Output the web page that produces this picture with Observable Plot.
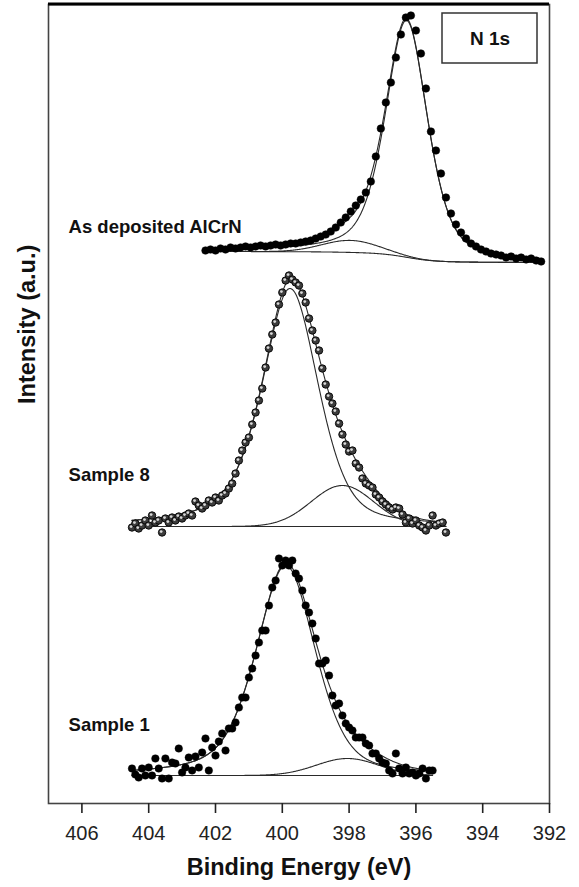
<!DOCTYPE html>
<html><head><meta charset="utf-8">
<script src="https://cdn.jsdelivr.net/npm/d3@7"></script>
<script src="https://cdn.jsdelivr.net/npm/@observablehq/plot@0.6"></script>
<style>
html,body{margin:0;padding:0;background:#fff;}
#chart{width:579px;height:887px;}
</style></head>
<body><div id="chart"></div>
<script>
// ---- axis ----
const xTicks = [406, 404, 402, 400, 398, 396, 394, 392];
const xTitle = "Binding Energy (eV)";
const yTitle = "Intensity (a.u.)";
const panelLabel = "N 1s";

// ---- labels ----
const sampleNames = ["As deposited AlCrN", "Sample 8", "Sample 1"];
const labelBE = [406.4, 406.4, 406.4];
const labelI = [576, 328, 78];

// ---- As deposited AlCrN (binding energy eV, intensity a.u., stacked) ----
const asDepBE = [402.30,402.15,402.00,401.85,401.70,401.55,401.40,401.25,401.10,400.95,
400.80,400.65,400.50,400.35,400.20,400.05,399.90,399.75,399.60,399.45,
399.30,399.15,399.00,398.85,398.70,398.55,398.40,398.25,398.10,397.95,
397.80,397.65,397.50,397.35,397.20,397.05,396.90,396.75,396.60,396.45,
396.30,396.15,396.00,395.85,395.70,395.55,395.40,395.25,395.10,394.95,
394.80,394.65,394.50,394.35,394.20,394.05,393.90,393.75,393.60,393.45,
393.30,393.15,393.00,392.85,392.70,392.55,392.40,392.25];
const asDepI = [553,554,553,555,554,556,555,556,557,556,
557,558,557,558,559,558,559,560,560,561,
562,563,565,567,569,572,576,581,586,592,
598,604,611,622,647,675,701,721,746,769,
786,788,773,750,715,672,653,630,606,590,
579,571,565,560,557,554,552,550,549,548,
546,547,545,546,544,545,543,542];
// background [high-BE side, low-BE side]; peaks [centre, height, FWHM, eta high-BE side, eta low-BE side]
const asDepBg = [552, 541];
const asDepPeaks = [[396.28, 237, 1.5, 0.5, 0.5], [397.96, 12, 2.0, 0, 0]];

// ---- Sample 8 ----
const s8BE = [404.5,404.4,404.3,404.2,404.1,404.0,403.9,403.8,403.7,403.6,
403.5,403.4,403.3,403.2,403.1,403.0,402.9,402.8,402.7,402.6,
402.5,402.4,402.3,402.2,402.1,402.0,401.9,401.8,401.7,401.6,
401.5,401.4,401.3,401.2,401.1,401.0,400.9,400.8,400.7,400.6,
400.5,400.4,400.3,400.2,400.1,400.0,399.9,399.8,399.7,399.6,
399.5,399.4,399.3,399.2,399.1,399.0,398.9,398.8,398.7,398.6,
398.5,398.4,398.3,398.2,398.1,398.0,397.9,397.8,397.7,397.6,
397.5,397.4,397.3,397.2,397.1,397.0,396.9,396.8,396.7,396.6,
396.5,396.4,396.3,396.2,396.1,396.0,395.9,395.8,395.7,395.6,
395.5,395.4,395.3,395.2,395.1];
const s8I = [276,280,275,278,283,278,288,281,283,271,
285,281,286,283,287,285,288,290,288,302,
298,295,298,303,301,306,303,308,310,315,
320,330,343,353,361,366,379,391,403,415,
436,455,469,481,499,511,523,528,524,521,
518,510,501,485,473,463,453,435,419,407,
400,392,380,369,359,352,353,340,336,325,
320,318,316,309,306,302,299,296,294,296,
295,289,281,285,280,283,278,276,273,278,
288,278,280,281,271];
const s8Bg = [277, 277];
const s8Peaks = [[399.77, 238, 2.0, 0.6, 0.4], [398.2, 41, 2.2, 0, 0]];

// ---- Sample 1 ----
const s1BE = [404.5,404.4,404.3,404.2,404.1,404.0,403.9,403.8,403.7,403.6,
403.5,403.4,403.3,403.2,403.1,403.0,402.9,402.8,402.7,402.6,
402.5,402.4,402.3,402.2,402.1,402.0,401.9,401.8,401.7,401.6,
401.5,401.4,401.3,401.2,401.1,401.0,400.9,400.8,400.7,400.6,
400.5,400.4,400.3,400.2,400.1,400.0,399.9,399.8,399.7,399.6,
399.5,399.4,399.3,399.2,399.1,399.0,398.9,398.8,398.7,398.6,
398.5,398.4,398.3,398.2,398.1,398.0,397.9,397.8,397.7,397.6,
397.5,397.4,397.3,397.2,397.1,397.0,396.9,396.8,396.7,396.6,
396.5,396.4,396.3,396.2,396.1,396.0,395.9,395.8,395.7,395.6,
395.5];
const s1I = [35,29,26,35,28,36,28,45,35,25,
45,25,41,40,55,31,36,46,33,47,
36,51,65,33,56,48,62,70,53,75,
75,81,96,106,106,126,135,148,161,173,
173,198,216,223,245,238,243,238,243,230,
225,213,198,191,180,165,140,140,143,128,
108,98,100,88,80,76,73,66,66,66,
60,58,50,50,45,41,40,33,30,50,
35,30,36,30,31,28,30,35,25,33,
33];
const s1Bg = [28, 28];
const s1Peaks = [[399.9, 210, 2.1, 0.5, 0.4], [398.05, 17, 2.2, 0, 0]];

// ---- build tables ----
const FONT = "'Liberation Sans', Arial, Helvetica, sans-serif";
const pts = (be, v) => be.map((b, i) => ({be: b, v: v[i]}));
function pv(x, p) {
  const [c, h, w, etaHi, etaLo] = p;
  const t = (x - c) / w;
  const eta = x >= c ? etaHi : etaLo;
  return h * (eta / (1 + 4 * t * t) + (1 - eta) * Math.exp(-4 * Math.LN2 * t * t));
}
function fitCurves(key, be, bg, peaks) {
  const lo = d3.min(be), hi = d3.max(be);
  const xs = d3.range(lo, hi + 1e-9, 0.02);
  const comps = xs.map(x => peaks.map(p => pv(x, p)));
  const sums = comps.map(c => d3.sum(c));
  const cum = Array.from(d3.cumsum(sums));
  const total = cum[cum.length - 1];
  const rows = [];
  xs.forEach((x, i) => {
    const base = bg[1] + (bg[0] - bg[1]) * cum[i] / total;
    rows.push({key: key + "-bg", be: x, v: base});
    peaks.forEach((p, k) => rows.push({key: key + "-p" + k, be: x, v: base + comps[i][k]}));
    rows.push({key: key + "-env", be: x, v: base + sums[i]});
  });
  return rows;
}
const curves = [
  ...fitCurves("asdep", asDepBE, asDepBg, asDepPeaks),
  ...fitCurves("s8", s8BE, s8Bg, s8Peaks),
  ...fitCurves("s1", s1BE, s1Bg, s1Peaks)
];
const asDep = pts(asDepBE, asDepI);
const s8 = pts(s8BE, s8I);
const s1 = pts(s1BE, s1I);
const labels = sampleNames.map((n, i) => ({name: n, be: labelBE[i], v: labelI[i]}));

const decor = (index, scales, values, dims) => {
  const g = d3.create("svg:g");
  g.append("line")
    .attr("x1", dims.marginLeft).attr("x2", dims.width - dims.marginRight)
    .attr("y1", dims.marginTop).attr("y2", dims.marginTop)
    .attr("stroke", "#000").attr("stroke-width", 3);
  const bw = 95, bh = 50;
  g.append("rect")
    .attr("x", dims.width - dims.marginRight - 12 - bw).attr("y", dims.marginTop + 9)
    .attr("width", bw).attr("height", bh)
    .attr("fill", "none").attr("stroke", "#333").attr("stroke-width", 1.5);
  return g.node();
};

const chart = Plot.plot({
  width: 579, height: 887,
  marginLeft: 48, marginRight: 30, marginTop: 4, marginBottom: 84,
  style: {fontFamily: FONT, background: "#fff", color: "#222", overflow: "visible"},
  x: {domain: [407, 392]},
  y: {domain: [0, 799], axis: null},
  marks: [
    Plot.line(curves, {x: "be", y: "v", z: "key", stroke: "#2a2a2a", strokeWidth: 1.1}),
    Plot.dot(asDep, {x: "be", y: "v", r: 3.8, fill: "#000", stroke: "#000", strokeWidth: 0.5}),
    Plot.dot(s8, {x: "be", y: "v", r: 3.7, fill: "#3c3c3c", stroke: "#0a0a0a", strokeWidth: 1}),
    Plot.dot(s8, {x: "be", y: "v", r: 1.4, fill: "#d8d8d8", stroke: "none", dx: -0.9, dy: -0.9}),
    Plot.dot(s1, {x: "be", y: "v", r: 3.8, fill: "#000", stroke: "#000", strokeWidth: 0.4}),
    Plot.text(labels, {x: "be", y: "v", text: "name", textAnchor: "start", lineAnchor: "middle",
      fontSize: 18.5, fontWeight: "bold", fill: "#111"}),
    Plot.frame({stroke: "#444", strokeWidth: 1.6}),
    decor,
    Plot.text([panelLabel], {frameAnchor: "top-right", dx: -59.5, dy: 34, textAnchor: "middle",
      lineAnchor: "middle", fontSize: 19, fontWeight: "bold", fill: "#111"}),
    Plot.axisX({ticks: xTicks, tickSize: 10, tickPadding: 12, fontSize: 20, label: null,
      strokeWidth: 1.6, color: "#222"}),
    Plot.text([xTitle], {frameAnchor: "bottom", dy: 64, lineAnchor: "middle", fontSize: 23.5,
      fontWeight: "bold", fill: "#111"}),
    Plot.text([yTitle], {frameAnchor: "left", dx: -21, rotate: -90, lineAnchor: "middle",
      fontSize: 23.5, fontWeight: "bold", fill: "#111"})
  ]
});
document.getElementById("chart").appendChild(chart);
</script>
</body></html>
